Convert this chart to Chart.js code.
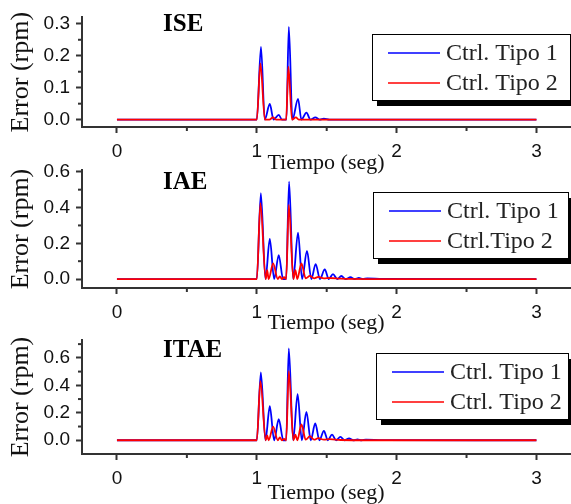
<!DOCTYPE html>
<html>
<head>
<meta charset="utf-8">
<script src="https://cdn.jsdelivr.net/npm/chart.js@4.4.0/dist/chart.umd.min.js"></script>
<style>
  body { margin: 0; background: #fff; }
  #wrap { position: relative; width: 571px; height: 504px; overflow: hidden; }
  canvas { position: absolute; left: 0; }
</style>
</head>
<body>
<div id="wrap">
  <canvas id="c1" width="571" height="180" style="top:0px"></canvas>
  <canvas id="c2" width="571" height="190" style="top:150px"></canvas>
  <canvas id="c3" width="571" height="184" style="top:320px"></canvas>
</div>
<script>
// series labels
let labelsA = ['Ctrl. Tipo 1', 'Ctrl. Tipo 2'];
let labelsB = ['Ctrl. Tipo 1', 'Ctrl.Tipo 2'];

// tick labels
let xTicks = [0, 1, 2, 3];
let xMinor = [0.5, 1.5, 2.5];
let iseTicks = [0, 0.1, 0.2, 0.3];
let iseMinor = [0.05, 0.15, 0.25];
let iaeTicks = [0, 0.2, 0.4, 0.6];
let iaeMinor = [0.1, 0.3, 0.5];
let itaeTicks = [0, 0.2, 0.4, 0.6];
let itaeMinor = [0.1, 0.3, 0.5, 0.7];

// ISE
let iseT1 = [0, 1.0, 1.03, 1.057, 1.093, 1.12, 1.157, 1.18, 1.212, 1.229, 1.255, 1.295, 1.319, 1.355, 1.384, 1.419, 1.45, 1.48, 1.52, 3];
let iseE1 = [0, 0, 0.228, 0, 0.049, 0, 0.015, 0, 0, 0.29, 0, 0.065, 0, 0.022, 0, 0.007, 0, 0.003, 0, 0];
let iseT2 = [0, 1.0, 1.026, 1.058, 1.09, 1.116, 1.14, 1.21, 1.226, 1.252, 1.28, 1.30, 3];
let iseE2 = [0, 0, 0.176, 0, 0, 0.007, 0, 0, 0.166, 0, 0.007, 0, 0];

// IAE
let iaeT1 = [0, 1.0, 1.029, 1.062, 1.093, 1.124, 1.157, 1.188, 1.21, 1.231, 1.26, 1.295, 1.324, 1.359, 1.39, 1.421, 1.452, 1.486, 1.515, 1.545, 1.575, 1.605, 1.635, 1.67, 1.70, 1.73, 1.76, 1.79, 1.9, 3];
let iaeE1 = [0, 0, 0.48, 0, 0.224, 0, 0.134, 0, 0, 0.545, 0, 0.26, 0, 0.157, 0, 0.084, 0, 0.054, 0, 0.028, 0, 0.017, 0, 0.01, 0, 0.006, 0, 0.004, 0.001, 0];
let iaeT2 = [0, 1.0, 1.026, 1.064, 1.074, 1.085, 1.117, 1.15, 1.165, 1.18, 1.195, 1.21, 1.229, 1.262, 1.276, 1.29, 1.319, 1.35, 1.38, 1.41, 1.44, 1.48, 1.52, 1.6, 1.8, 3];
let iaeE2 = [0, 0, 0.424, 0, 0.05, 0, 0.088, 0, 0.015, 0, 0.01, 0, 0.415, 0, 0.05, 0, 0.088, 0.004, 0.018, 0.004, 0.012, 0.004, 0.006, 0.002, 0, 0];

// ITAE
let itaeT1 = [0, 1.0, 1.029, 1.062, 1.093, 1.124, 1.157, 1.19, 1.21, 1.229, 1.26, 1.292, 1.322, 1.355, 1.386, 1.418, 1.448, 1.48, 1.508, 1.538, 1.567, 1.598, 1.628, 1.66, 1.69, 1.72, 1.75, 1.78, 1.9, 3];
let itaeE1 = [0, 0, 0.494, 0, 0.248, 0, 0.153, 0, 0, 0.669, 0, 0.335, 0, 0.207, 0, 0.122, 0, 0.068, 0, 0.041, 0, 0.024, 0, 0.013, 0, 0.007, 0, 0.004, 0.001, 0];
let itaeT2 = [0, 1.0, 1.026, 1.064, 1.074, 1.085, 1.117, 1.15, 1.165, 1.18, 1.195, 1.21, 1.229, 1.262, 1.276, 1.29, 1.319, 1.35, 1.38, 1.41, 1.44, 1.48, 1.52, 1.6, 1.8, 3];
let itaeE2 = [0, 0, 0.43, 0, 0.036, 0, 0.1, 0, 0.02, 0, 0.01, 0, 0.504, 0, 0.04, 0, 0.116, 0.004, 0.03, 0.004, 0.015, 0.004, 0.008, 0.002, 0, 0];

Chart.defaults.font.family = '"Liberation Sans", Arial, sans-serif';

function pts(ts, vs) {
  return ts.map(function (t, i) { return { x: t, y: vs[i] }; });
}

// minor ticks, panel name and boxed legend with shadow
let extras = {
  id: 'extras',
  afterDraw(chart, args, o) {
    let ctx = chart.ctx;
    let xs = chart.scales.x, ys = chart.scales.y;
    ctx.save();
    ctx.strokeStyle = '#333';
    ctx.lineWidth = 2;
    o.minorX.forEach(function (v) {
      let px = xs.getPixelForValue(v);
      ctx.beginPath(); ctx.moveTo(px, xs.top); ctx.lineTo(px, xs.top + 4); ctx.stroke();
    });
    o.minorY.forEach(function (v) {
      let py = ys.getPixelForValue(v);
      ctx.beginPath(); ctx.moveTo(ys.right, py); ctx.lineTo(ys.right - 4, py); ctx.stroke();
    });

    ctx.fillStyle = '#000';
    ctx.textBaseline = 'middle';
    ctx.textAlign = 'left';
    ctx.font = 'bold 25px "Liberation Serif", serif';
    ctx.fillText(o.name, o.nameX, o.nameY);

    let b = o.box;
    ctx.fillStyle = '#000';
    ctx.fillRect(b.x + 5, b.y + 6, b.w, b.h);
    ctx.fillStyle = '#fff';
    ctx.fillRect(b.x, b.y, b.w, b.h);
    ctx.lineWidth = 1;
    ctx.strokeStyle = '#000';
    ctx.strokeRect(b.x + 0.5, b.y + 0.5, b.w, b.h);
    ctx.font = '24px "Liberation Serif", serif';
    chart.data.datasets.forEach(function (ds, i) {
      let y = b.y + [19, 49][i];
      ctx.strokeStyle = ds.borderColor;
      ctx.lineWidth = 1.5;
      ctx.beginPath(); ctx.moveTo(b.x + 16, y); ctx.lineTo(b.x + 68, y); ctx.stroke();
      ctx.fillStyle = '#222';
      ctx.fillText(ds.label, b.x + 74, y + 1);
    });
    ctx.restore();
  }
};

function makeChart(id, p) {
  return new Chart(document.getElementById(id), {
    type: 'line',
    data: {
      datasets: [
        { label: p.labels[0], data: pts(p.t1, p.e1), borderColor: '#0000ff', order: 1 },
        { label: p.labels[1], data: pts(p.t2, p.e2), borderColor: '#ff0000', order: 0 }
      ]
    },
    options: {
      responsive: false,
      animation: false,
      devicePixelRatio: 1,
      layout: { padding: { top: p.top, right: 1, left: 0, bottom: 0 } },
      elements: {
        point: { radius: 0 },
        line: { borderWidth: 1.8, cubicInterpolationMode: 'monotone' }
      },
      plugins: {
        legend: { display: false },
        tooltip: { enabled: false },
        extras: { minorX: xMinor, minorY: p.minor, name: p.name, nameX: 163, nameY: p.nameY, box: p.box }
      },
      scales: {
        x: {
          type: 'linear',
          min: -0.25, max: 3.24,
          afterBuildTicks: function (s) { s.ticks = xTicks.map(function (v) { return { value: v }; }); },
          afterFit: function (s) { s.height = p.xh; },
          ticks: { font: { size: 19 }, color: '#111', padding: 7, maxRotation: 0,
                   callback: function (v) { return String(v); } },
          grid: { drawOnChartArea: false, tickLength: 6, tickColor: '#333', tickWidth: 2 },
          border: { color: '#333', width: 2 },
          title: { display: true, text: 'Tiempo (seg)', color: '#111',
                   font: { family: '"Liberation Serif", serif', size: 22, lineHeight: 1 },
                   padding: { top: 0, bottom: p.tpad } }
        },
        y: {
          min: p.ymin, max: p.ymax,
          afterBuildTicks: function (s) { s.ticks = p.ticks.map(function (v) { return { value: v }; }); },
          afterFit: function (s) { s.width = 82; },
          ticks: { font: { size: 19 }, color: '#111', padding: 6,
                   callback: function (v) { return v.toFixed(1); } },
          grid: { drawOnChartArea: false, tickLength: 6, tickColor: '#333', tickWidth: 2 },
          border: { color: '#333', width: 2 },
          title: { display: true, text: 'Error (rpm)', color: '#111',
                   font: { family: '"Liberation Serif", serif', size: 26, lineHeight: 1 },
                   padding: { top: 8, bottom: 0 } }
        }
      }
    },
    plugins: [extras]
  });
}

makeChart('c1', { labels: labelsA, t1: iseT1, e1: iseE1, t2: iseT2, e2: iseE2,
  ticks: iseTicks, minor: iseMinor, ymin: -0.023, ymax: 0.32, top: 12, xh: 53, tpad: 6,
  name: 'ISE', nameY: 25, box: { x: 372, y: 34, w: 198, h: 66 } });

makeChart('c2', { labels: labelsB, t1: iaeT1, e1: iaeE1, t2: iaeT2, e2: iaeE2,
  ticks: iaeTicks, minor: iaeMinor, ymin: -0.05, ymax: 0.61, top: 20, xh: 52, tpad: 6,
  name: 'IAE', nameY: 33, box: { x: 373, y: 42, w: 195, h: 66 } });

makeChart('c3', { labels: labelsA, t1: itaeT1, e1: itaeE1, t2: itaeT2, e2: itaeE2,
  ticks: itaeTicks, minor: itaeMinor, ymin: -0.1, ymax: 0.73, top: 20, xh: 50, tpad: 0,
  name: 'ITAE', nameY: 31, box: { x: 376, y: 33, w: 192, h: 66 } });
</script>
</body>
</html>
